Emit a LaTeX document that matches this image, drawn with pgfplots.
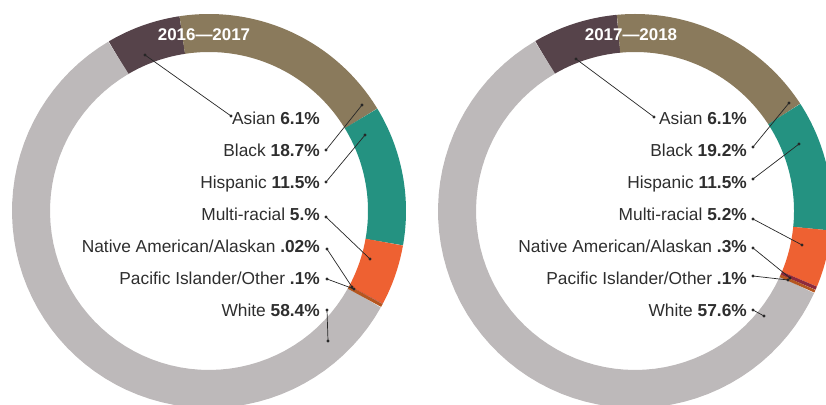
\documentclass[border=0pt]{standalone}
\usepackage{fontspec}
\setmainfont{Liberation Sans}
\usepackage{pgfplots}
\pgfplotsset{compat=1.18}
\definecolor{cAsian}{HTML}{56434A}
\definecolor{cBlack}{HTML}{8A7A5C}
\definecolor{cHisp}{HTML}{249281}
\definecolor{cMulti}{HTML}{EE6132}
\definecolor{cNative}{HTML}{8E2A3C}
\definecolor{cPac}{HTML}{B5561F}
\definecolor{cWhite}{HTML}{BDB9BA}
\definecolor{cText}{HTML}{2E2E2E}
% slice: [samples]{centre x}{start angle}{cum. % from}{cum. % to}{colour}
\newcommand\slice[6][60]{%
  \addplot[draw=#6, line width=38bp, line cap=butt, samples=#1, domain={#3+3.6*#4}:{#3+3.6*#5}]
    ({#2+178*sin(x)},{194+178*cos(x)});}
\newcommand\leader[4]{%
  \addplot[black!85, line width=0.7bp, mark=*, mark size=1.1bp, mark options={solid}] coordinates {(#1,#2) (#3,#4)};}
\begin{document}
\begin{tikzpicture}
\useasboundingbox (0,0) rectangle (826bp,405bp);
\begin{axis}[at={(0,0)}, anchor=south west, scale only axis,
  width=826bp, height=405bp, xmin=0, xmax=826, ymin=0, ymax=405,
  hide axis, clip=true]
% ---- 2016-2017 (centre x = 209, start -30.6 deg) ----
% Asian 6.1, Black 18.7, Hispanic 11.5, Multi 5.0, Native .02, Pacific .1, White 58.4
\slice{209}{-30.6}{0}{6.1}{cAsian}
\slice{209}{-30.6}{6.1}{24.8}{cBlack}
\slice{209}{-30.6}{24.8}{36.3}{cHisp}
\slice{209}{-30.6}{36.3}{41.3}{cMulti}
\slice{209}{-30.6}{41.6}{100}{cWhite}
\slice[2]{209}{-30.6}{41.3}{41.32}{cNative}
\slice[2]{209}{-30.6}{41.32}{41.6}{cPac}
% ---- 2017-2018 (centre x = 635, start -30.4 deg), read from the drawn arcs ----
\slice{635}{-30.4}{0}{6.97}{cAsian}
\slice{635}{-30.4}{6.97}{24.28}{cBlack}
\slice{635}{-30.4}{24.28}{35.03}{cHisp}
\slice{635}{-30.4}{35.03}{39.70}{cMulti}
\slice{635}{-30.4}{40.25}{100}{cWhite}
\slice[2]{635}{-30.4}{39.70}{40.0}{cNative}
\slice[2]{635}{-30.4}{40.0}{40.25}{cPac}
% leader lines left
\leader{231}{289}{145}{350}
\leader{326}{255}{362}{300}
\leader{326}{223}{365}{270}
\leader{326}{188}{370}{146}
\leader{327}{156}{352}{118}
\leader{327}{126}{354}{116}
\leader{327}{95}{328}{64}
% leader lines right
\leader{654}{288}{576}{346}
\leader{753}{258}{789}{302}
\leader{753}{226}{799}{261}
\leader{753}{186}{802}{160}
\leader{753}{157}{790}{127}
\leader{753}{129}{788}{125}
\leader{753}{95}{764}{89}
% labels
\begin{scope}[every node/.style={anchor=base east, inner sep=0pt, text=cText, font=\fontsize{17.4}{19}\selectfont}]
\node at (axis cs:320,280) {Asian \textbf{6.1\%}};
\node at (axis cs:320,248) {Black \textbf{18.7\%}};
\node at (axis cs:320,216) {Hispanic \textbf{11.5\%}};
\node at (axis cs:320,184) {Multi-racial \textbf{5.\%}};
\node at (axis cs:320,152) {Native American/Alaskan \textbf{.02\%}};
\node at (axis cs:320,120) {Pacific Islander/Other \textbf{.1\%}};
\node at (axis cs:320,88) {White \textbf{58.4\%}};
\node at (axis cs:747,280) {Asian \textbf{6.1\%}};
\node at (axis cs:747,248) {Black \textbf{19.2\%}};
\node at (axis cs:747,216) {Hispanic \textbf{11.5\%}};
\node at (axis cs:747,184) {Multi-racial \textbf{5.2\%}};
\node at (axis cs:747,152) {Native American/Alaskan \textbf{.3\%}};
\node at (axis cs:747,120) {Pacific Islander/Other \textbf{.1\%}};
\node at (axis cs:747,88) {White \textbf{57.6\%}};
\end{scope}
\node[anchor=base, inner sep=0pt, text=white, font=\bfseries\fontsize{17}{18}\selectfont] at (axis cs:204,364) {2016—2017};
\node[anchor=base, inner sep=0pt, text=white, font=\bfseries\fontsize{17}{18}\selectfont] at (axis cs:631,364) {2017—2018};
\end{axis}
\end{tikzpicture}
\end{document}
